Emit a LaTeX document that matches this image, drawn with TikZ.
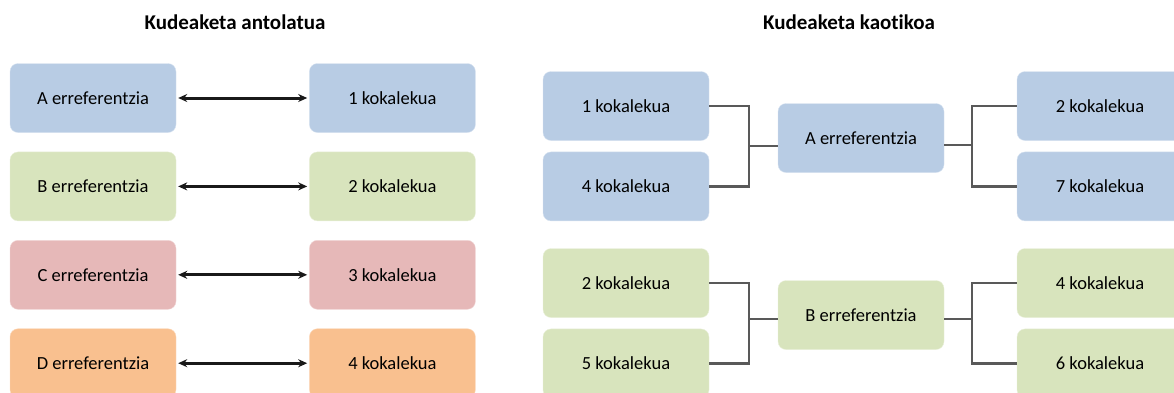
\documentclass[tikz,border=0pt]{standalone}
\usepackage{fontspec}
\setmainfont{Carlito}[Ligatures=NoCommon]
\usetikzlibrary{positioning}
\usetikzlibrary{arrows.meta}
\definecolor{bluebox}{HTML}{B8CCE4}
\definecolor{greenbox}{HTML}{D8E4BD}
\definecolor{redbox}{HTML}{E6B8B8}
\definecolor{orangebox}{HTML}{F9C08F}
\tikzset{
  slot/.style={rectangle,rounded corners=8pt,fill=#1,draw=#1!55!white,thin,
    minimum width=166pt,minimum height=69pt,inner sep=0pt,
    font=\fontsize{18.5}{22}\selectfont},
  title/.style={font=\fontsize{21}{25}\selectfont\bfseries},
  link/.style={{Stealth[length=9pt,width=8pt]}-{Stealth[length=9pt,width=8pt]},
    line width=3pt,gray!20!black,shorten <=2pt,shorten >=2pt},
  tree/.style={line width=2.5pt,gray!70!black},
}

\begin{document}
\begin{tikzpicture}[x=1pt,y=-1pt]
        \useasboundingbox (0,0) rectangle (1174,392);
        \clip (0,0) rectangle (1174,392);
        % ordered
        \node (t1) [title] at (235,22) {Kudeaketa antolatua};
        \node (a) [slot=bluebox] at (93,98) {A erreferentzia};
        \node (b) [slot=greenbox,below=19pt of a] {B erreferentzia};
        \node (c) [slot=redbox,below=19pt of b] {C erreferentzia};
        \node (d) [slot=orangebox,below=19pt of c] {D erreferentzia};
        \node (1) [slot=bluebox,right=133pt of a] {1 kokalekua};
        \node (2) [slot=greenbox,right=133pt of b] {2 kokalekua};
        \node (3) [slot=redbox,right=133pt of c] {3 kokalekua};
        \node (4) [slot=orangebox,right=133pt of d] {4 kokalekua};
        \draw[link] (a) -- (1);
        \draw[link] (b) -- (2);
        \draw[link] (c) -- (3);
        \draw[link] (d) -- (4);
        % chaotic
        \node (t2) [title] at (849,22) {Kudeaketa kaotikoa};
        \node (ra) [slot=bluebox] at (861,138) {A erreferentzia};
        \node (s1) [slot=bluebox] at (626,106) {1 kokalekua};
        \node (s4) [slot=bluebox,below=11pt of s1] {4 kokalekua};
        \node (r2) [slot=bluebox] at (1100,106) {2 kokalekua};
        \node (r7) [slot=bluebox,below=11pt of r2] {7 kokalekua};
        \node (rb) [slot=greenbox] at (861,315) {B erreferentzia};
        \node (u2) [slot=greenbox] at (626,283) {2 kokalekua};
        \node (u5) [slot=greenbox,below=11pt of u2] {5 kokalekua};
        \node (v4) [slot=greenbox] at (1100,283) {4 kokalekua};
        \node (v6) [slot=greenbox,below=11pt of v4] {6 kokalekua};
        \coordinate (ja) at (749,146);
        \coordinate (ka) at (972,145);
        \coordinate (jb) at (749,319);
        \coordinate (kb) at (972,319);
        \draw[tree] (s1.east) -| (ja) |- (s4.east);
        \draw[tree] (ja) -- (ja -| ra.west);
        \draw[tree] (ka -| ra.east) -- (ka);
        \draw[tree] (r2.west) -| (ka) |- (r7.west);
        \draw[tree] (u2.east) -| (jb) |- (u5.east);
        \draw[tree] (jb) -- (jb -| rb.west);
        \draw[tree] (kb -| rb.east) -- (kb);
        \draw[tree] (v4.west) -| (kb) |- (v6.west);
      \end{tikzpicture}
\end{document}
